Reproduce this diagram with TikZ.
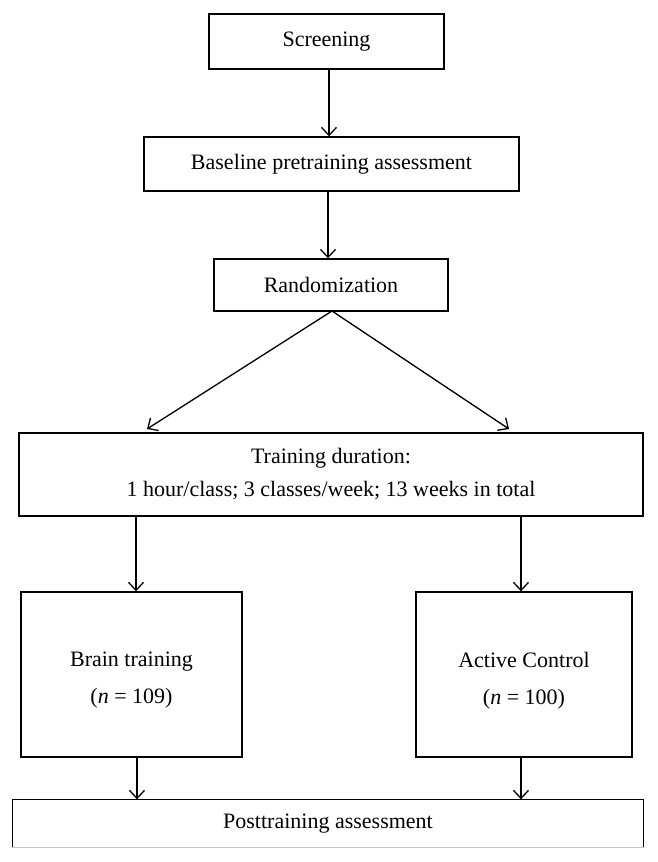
\documentclass[tikz,border=0pt]{standalone}
\usepackage{fontspec}
\setmainfont{Liberation Serif}
\usetikzlibrary{arrows.meta}
\begin{document}
\begin{tikzpicture}[x=1pt,y=-1pt,
  box/.style={draw, line width=1.4pt, inner sep=0pt, align=center, font=\fontsize{22}{33}\selectfont},
  txt/.style={inner sep=0pt, align=center, font=\fontsize{22}{37}\selectfont},
  arr/.style={line width=1.3pt, -{Straight Barb[length=8pt,width=15pt,line width=1.3pt]}}]
\useasboundingbox (0,0) rectangle (658,862);
\node[box, minimum width=235pt, minimum height=55pt] (scr) at (326.5,41.5) {Screening};
\node[box, minimum width=375pt, minimum height=54pt] (base) at (331.5,164) {Baseline pretraining assessment};
\node[box, minimum width=234pt, minimum height=52pt] (rand) at (331,285) {Randomization};
\node[box, minimum width=624pt, minimum height=83pt] (train) at (331,474.5) {Training duration:\\1 hour/class; 3 classes/week; 13 weeks in total};
\node[box, minimum width=221pt, minimum height=165pt] (brain) at (131.5,674.5) {};
\node[txt] (braint) at ([yshift=-6pt]brain.center) {Brain training\\(\textit{n} = 109)};
\node[box, minimum width=216pt, minimum height=165pt] (act) at (524,674.5) {};
\node[txt] (actt) at ([yshift=-6pt]act.center) {Active Control\\(\textit{n} = 100)};
\node[box, draw=none, minimum width=630pt, minimum height=47pt] (post) at (328,823.5) {Posttraining assessment};
\draw[line width=1.4pt] (post.south west) -- (post.north west) -- (post.north east) -- (post.south east);
\draw[line width=1pt, gray!45] (post.south west) -- (post.south east);
\coordinate (apex) at (332,311);
\coordinate (tl) at (147,429);
\coordinate (tr) at (509,429);
\draw[arr] (scr.south -| 329,0) -- (base.north -| 329,0);
\draw[arr] (base.south -| 328,0) -- (rand.north -| 328,0);
\draw[arr] (apex) -- (tl);
\draw[arr] (apex) -- (tr);
\draw[arr] (train.south -| 136,0) -- (brain.north -| 136,0);
\draw[arr] (train.south -| 521,0) -- (act.north -| 521,0);
\draw[arr] (brain.south -| 137,0) -- (post.north -| 137,0);
\draw[arr] (act.south -| 521,0) -- (post.north -| 521,0);
\end{tikzpicture}
\end{document}
